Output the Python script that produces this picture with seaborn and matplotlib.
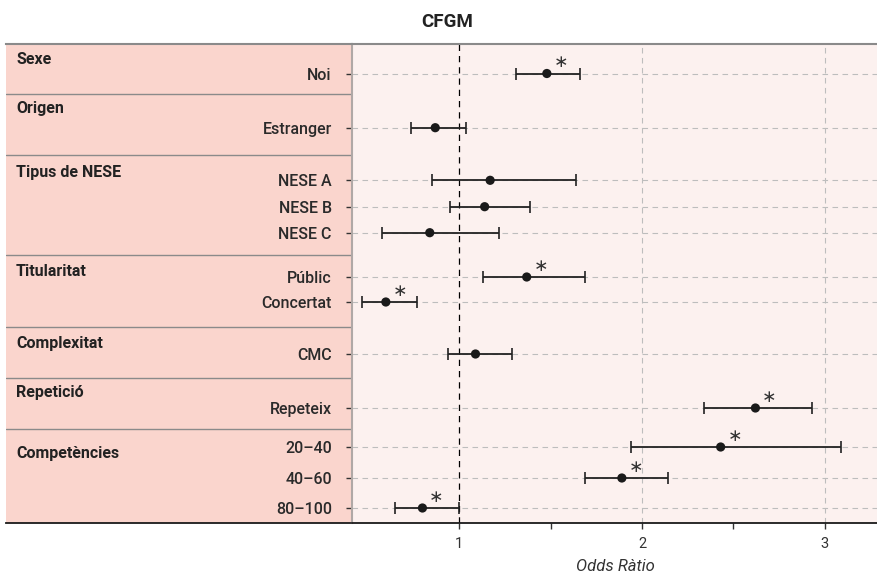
import matplotlib
matplotlib.use('Agg')
import numpy as np
import pandas as pd
import matplotlib.pyplot as plt
import seaborn as sns

# dades (odds ràtio i interval de confiança)
groups = ['Sexe', 'Origen', 'Tipus de NESE', 'Titularitat', 'Complexitat', 'Repetició', 'Competències']
labels = ['Noi', 'Estranger', 'NESE A', 'NESE B', 'NESE C', 'Públic', 'Concertat',
          'CMC', 'Repeteix', '20–40', '40–60', '80–100']
odds = [1.48, 0.87, 1.17, 1.14, 0.84, 1.37, 0.60, 1.09, 2.62, 2.43, 1.89, 0.80]
ci_low = [1.31, 0.74, 0.85, 0.95, 0.58, 1.13, 0.47, 0.94, 2.34, 1.94, 1.69, 0.65]
ci_high = [1.66, 1.04, 1.64, 1.39, 1.22, 1.69, 0.77, 1.29, 2.93, 3.09, 2.14, 1.00]
signif = [True, False, False, False, False, True, True, False, True, True, True, True]
x_ticks = [1, 2, 3]
x_minor = [1.5, 2.5]

# disposició vertical (unitats: píxels des de dalt del panell)
row_pos = [29.5, 83.7, 136.3, 162.7, 188.7, 233, 258, 310, 364, 403, 434, 464]
sep_pos = [50, 110.7, 211.3, 282.7, 333.7, 384.7]
group_pos = [15, 65, 129, 228, 300, 349, 410]
panel_h = 479

sns.set_style('white')
plt.rcParams['font.family'] = ['Roboto', 'DejaVu Sans']

df = pd.DataFrame({'label': labels, 'odds': odds, 'lo': ci_low, 'hi': ci_high,
                   'sig': signif, 'y': row_pos})

W, H = 878, 577
fig = plt.figure(figsize=(W / 100, H / 100), dpi=100)
left_px, split_px, top_px, bot_px = 6, 352, 44, 523
ax_l = fig.add_axes([left_px / W, (H - bot_px) / H, (split_px - left_px) / W, (bot_px - top_px) / H])
ax = fig.add_axes([split_px / W, (H - bot_px) / H, (W - split_px) / W, (bot_px - top_px) / H])

# panell esquerre
ax_l.set_facecolor('#fad5cd')
ax_l.set_xlim(0, 1)
ax_l.set_ylim(panel_h, 0)
ax_l.set_xticks([])
ax_l.set_yticks([])
for s in ['left', 'right']:
    ax_l.spines[s].set_visible(False)
ax_l.spines['top'].set_color('#8a8a8a')
ax_l.spines['top'].set_linewidth(1.5)
ax_l.spines['bottom'].set_color('#1a1a1a')
ax_l.spines['bottom'].set_linewidth(1.3)
for yv in sep_pos:
    ax_l.axhline(yv, color='#8a8a8a', lw=1.0)
for g, yv in zip(groups, group_pos):
    ax_l.text(0.029, yv, g, fontsize=11.5, fontweight='bold', color='#222222',
              ha='left', va='center')

# panell dret
ax.set_facecolor('#fcf1ef')
ax.set_xlim(0.415, 3.29)
ax.set_ylim(panel_h, 0)

ax.errorbar(df['odds'], df['y'], xerr=[df['odds'] - df['lo'], df['hi'] - df['odds']],
            fmt='none', ecolor='#222222', elinewidth=1.3, capsize=4, capthick=1.2, zorder=3)
sns.scatterplot(data=df, x='odds', y='y', ax=ax, s=44, color='#1a1a1a',
                edgecolor='none', zorder=4, legend=False)
for _, r in df[df['sig']].iterrows():
    ax.annotate('∗', (r['odds'], r['y']), xytext=(10, 8), textcoords='offset points',
                ha='center', va='center', fontsize=12.5, color='#333333',
                family='DejaVu Sans')

ax.axvline(1, color='black', lw=0.9, ls=(0, (5, 4)), zorder=2)

ax.set_yticks(row_pos)
ax.set_yticklabels(labels)
ax.set_xticks(x_ticks)
ax.set_xticks(x_minor, minor=True)
ax.grid(True, axis='both', which='major', color='#bdbdbd', lw=0.8, ls=(0, (5, 4)))
ax.get_xgridlines()[0].set_visible(False)
ax.set_axisbelow(True)

ax.tick_params(axis='y', length=4, width=1, color='#333333', pad=10.5,
               labelsize=11.5, labelcolor='#2a2a2a', left=True)
ax.tick_params(axis='x', which='both', length=4, width=1, color='#333333', pad=6,
               labelsize=10.5, labelcolor='#333333', bottom=True)
for lab in ax.get_yticklabels():
    lab.set_ha('right')
    lab.set_fontweight('medium')

ax.spines['right'].set_visible(False)
ax.spines['top'].set_color('#8a8a8a')
ax.spines['top'].set_linewidth(1.5)
ax.spines['left'].set_color('#b0a8a6')
ax.spines['left'].set_linewidth(1.5)
ax.spines['bottom'].set_color('#1a1a1a')
ax.spines['bottom'].set_linewidth(1.3)

ax.set_xlabel('Odds Ràtio', fontsize=12, style='italic', color='#333333', labelpad=6)
ax.set_ylabel('')

fig.text(447 / W, 1 - 22 / H, 'CFGM', fontsize=13.5, fontweight='bold',
         color='#222222', ha='center', va='center')

fig.savefig('out.png', dpi=100)
